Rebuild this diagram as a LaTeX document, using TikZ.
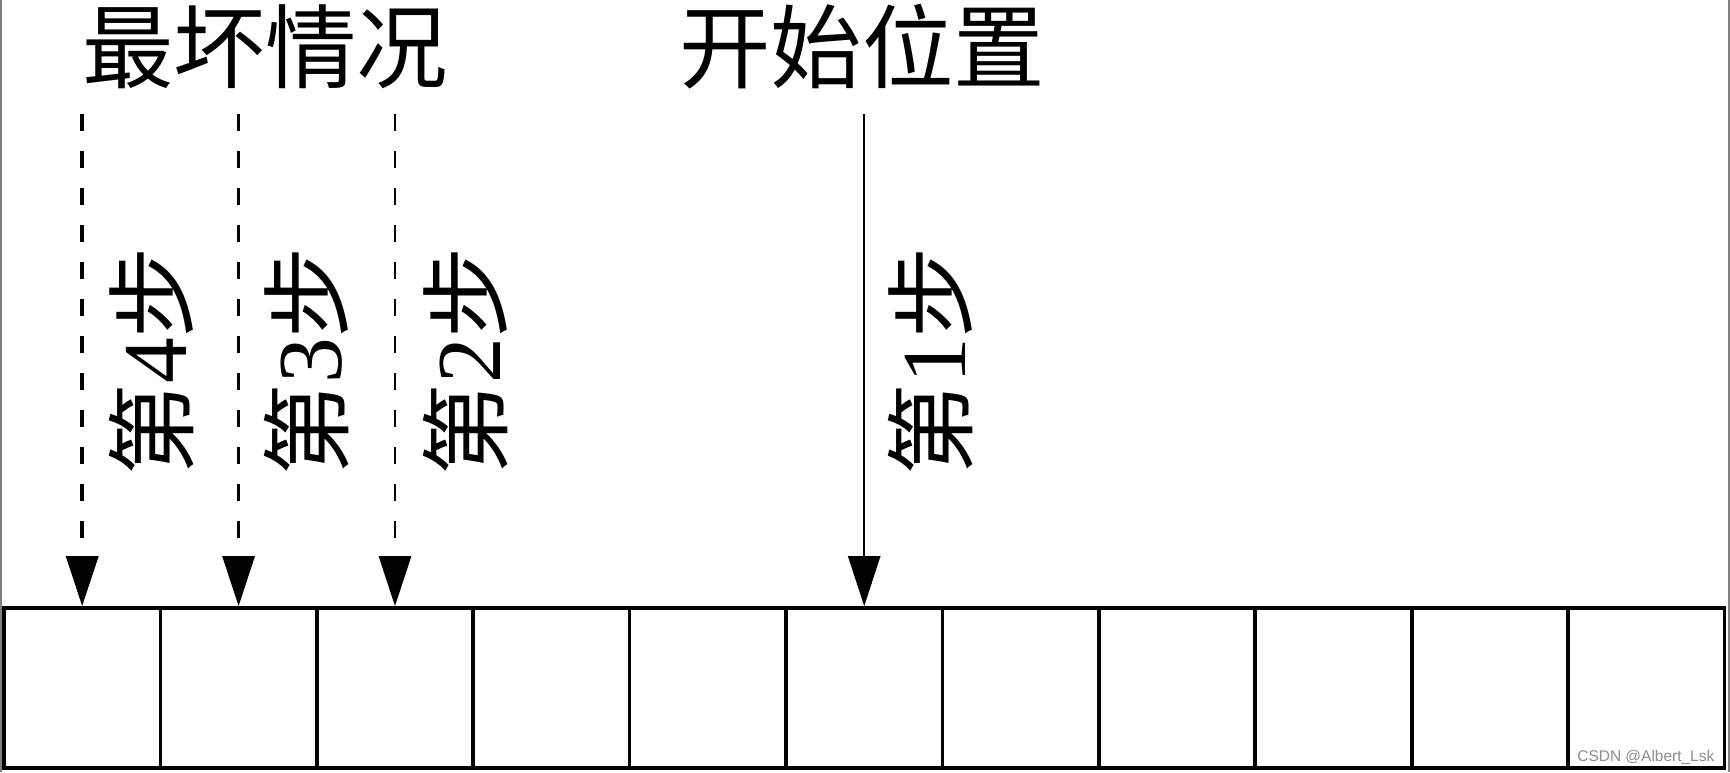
\documentclass[tikz,border=0pt]{standalone}
\usepackage{fontspec}
\setmainfont{Liberation Serif}
\newfontfamily\cjk{Noto Sans CJK SC}
\newfontfamily\wmark{Liberation Sans}
\usepackage{tikz}
\usetikzlibrary{calc, positioning, arrows.meta}
\tikzstyle{cell}=[draw, shape=rectangle, line width=1.05pt, minimum width=1.564cm, minimum height=1.6cm, inner sep=0pt]
\tikzstyle{ttl}=[inner sep=0pt, font=\cjk\fontsize{26}{30}\selectfont]
\tikzstyle{stp}=[inner sep=0pt, rotate=90, font=\cjk\fontsize{26}{30}\selectfont]
\tikzstyle{worst}=[line width=0.85pt, dash pattern=on 0.17cm off 0.2cm]
\tikzset{>={Triangle[width=0.32cm, length=0.5cm]}}

\begin{document}
\begin{tikzpicture}[x=0.01cm, y=-0.01cm]
\useasboundingbox (0,0) rectangle (1730,772);
\draw[gray, line width=0.5pt] (1,0) -- (1,772);
\draw[gray, line width=0.5pt] (1729,0) -- (1729,772);
\node[cell] (C0) at (82.2,688) {};
\node[cell] (C1) at (238.6,688) {};
\node[cell] (C2) at (395.0,688) {};
\node[cell] (C3) at (551.4,688) {};
\node[cell] (C4) at (707.8,688) {};
\node[cell] (C5) at (864.2,688) {};
\node[cell] (C6) at (1020.6,688) {};
\node[cell] (C7) at (1177.0,688) {};
\node[cell] (C8) at (1333.4,688) {};
\node[cell] (C9) at (1489.8,688) {};
\node[cell] (C10) at (1646.2,688) {};
\node[ttl] (W) at (265,47) {最坏情况};
\node[ttl] (S) at (862,47) {开始位置};
\node[stp] (L4) at (152,361) {第{\rmfamily 4}步};
\node[stp] (L3) at (307,361) {第{\rmfamily 3}步};
\node[stp] (L2) at (466,361) {第{\rmfamily 2}步};
\node[stp] (L1) at (931,361) {第{\rmfamily 1}步};
\coordinate (P4) at (82.2,114);
\coordinate (P3) at (238.6,114);
\coordinate (P2) at (395.0,114);
\coordinate (P1) at (864.2,114);
\draw[worst, ->, line width=1.1pt] (P4) -- (C0.north);
\draw[worst, ->] (P3) -- (C1.north);
\draw[worst, ->] (P2) -- (C2.north);
\draw[->, line width=0.7pt] (P1) -- (C5.north);
\node[font=\wmark\fontsize{4.4}{5}\selectfont, text=black!45, anchor=base east, inner sep=0pt] (WM) at (1715,761) {CSDN @Albert\_Lsk};
\end{tikzpicture}
\end{document}
